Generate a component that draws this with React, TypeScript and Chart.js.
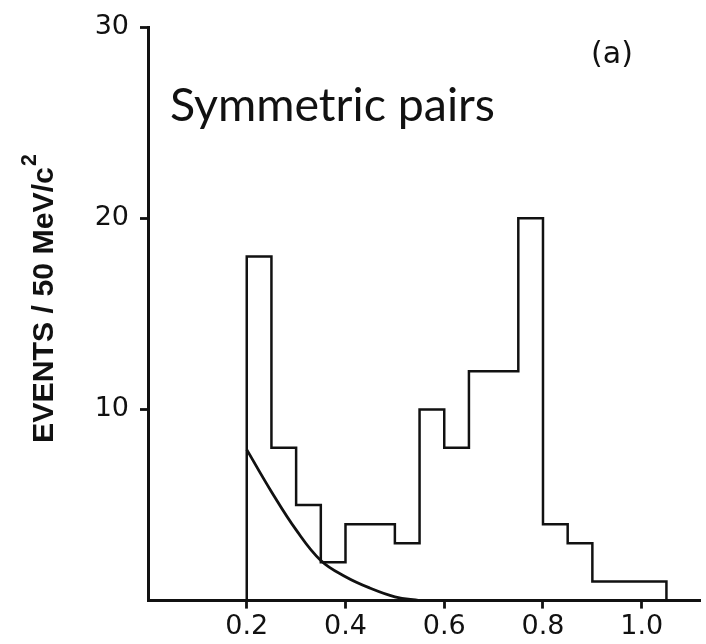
import React, { useEffect, useRef } from "react";
import { Chart, registerables } from "chart.js";

Chart.register(...registerables);

// Histogram bin edges (GeV/c^2) and counts per 50 MeV/c^2 bin
const binEdges = [0.2, 0.25, 0.3, 0.35, 0.4, 0.45, 0.5, 0.55, 0.6, 0.65, 0.7, 0.75, 0.8, 0.85, 0.9, 0.95, 1.0, 1.05];
const binCounts = [18, 8, 5, 2, 4, 4, 3, 10, 8, 12, 12, 20, 4, 3, 1, 1, 1];

// Background curve
const curveX = [0.2, 0.25, 0.3, 0.35, 0.4, 0.45, 0.5, 0.55];
const curveY = [7.9, 5.7, 3.7, 2.1, 1.25, 0.65, 0.2, 0];

// Tick values
const xTickValues = [0.2, 0.4, 0.6, 0.8, 1.0];
const yTickValues = [10, 20, 30];

// Texts
const yTitleMain = "EVENTS / 50 MeV/c";
const yTitleSup = "2";
const annotationText = "Symmetric pairs";
const panelLabel = "(a)";

const W = 706;
const H = 644;

export default function App() {
  const canvasRef = useRef<HTMLCanvasElement | null>(null);

  useEffect(() => {
    const canvas = canvasRef.current;
    if (!canvas) return;

    const histData: { x: number; y: number }[] = [{ x: binEdges[0], y: 0 }];
    binCounts.forEach((c, i) => histData.push({ x: binEdges[i], y: c }));
    histData.push({ x: binEdges[binEdges.length - 1], y: 0 });

    const curveData = curveX.map((x, i) => ({ x, y: curveY[i] }));

    const textPlugin = {
      id: "textPlugin",
      afterDraw(chart: any) {
        const ctx = chart.ctx as CanvasRenderingContext2D;
        ctx.save();
        ctx.fillStyle = "#111";

        // Y axis title (rotated), with superscript
        ctx.save();
        const base = 28;
        ctx.font = `bold ${base}px "Liberation Sans", Arial, sans-serif`;
        const wMeas = ctx.measureText(yTitleMain).width;
        const size = (base * 276) / wMeas;
        ctx.font = `bold ${size}px "Liberation Sans", Arial, sans-serif`;
        const wMain = ctx.measureText(yTitleMain).width;
        ctx.translate(45, 305);
        ctx.rotate(-Math.PI / 2);
        ctx.textBaseline = "middle";
        ctx.textAlign = "left";
        ctx.fillText(yTitleMain, -wMain / 2, 0);
        ctx.font = `bold ${size * 0.7}px "Liberation Sans", Arial, sans-serif`;
        ctx.fillText(yTitleSup, wMain / 2 + 1, -size * 0.5);
        ctx.restore();

        // Annotation
        ctx.save();
        ctx.font = `44px Lato, "Open Sans", sans-serif`;
        const aw = ctx.measureText(annotationText).width;
        const asz = (44 * 325) / aw;
        ctx.font = `${asz}px Lato, "Open Sans", sans-serif`;
        ctx.textBaseline = "alphabetic";
        ctx.textAlign = "left";
        ctx.fillText(annotationText, 170, 121);
        ctx.restore();

        // Panel label
        ctx.save();
        ctx.font = `30px "DejaVu Sans", sans-serif`;
        ctx.textAlign = "center";
        ctx.textBaseline = "middle";
        ctx.fillText(panelLabel, 612, 55);
        ctx.restore();

        ctx.restore();
      },
    };

    const tickFont = { family: '"DejaVu Sans", sans-serif', size: 27 };

    const chart = new Chart(canvas, {
      type: "line",
      data: {
        datasets: [
          {
            data: histData,
            borderColor: "#111",
            borderWidth: 2.5,
            pointRadius: 0,
            fill: false,
            stepped: true,
            tension: 0,
          },
          {
            data: curveData,
            borderColor: "#111",
            borderWidth: 2.8,
            pointRadius: 0,
            fill: false,
            tension: 0.4,
          },
        ],
      },
      options: {
        responsive: false,
        animation: false,
        events: [],
        layout: { padding: { top: 22, right: 6, left: 0, bottom: 0 } },
        plugins: {
          legend: { display: false },
          tooltip: { enabled: false },
          title: { display: false },
        },
        scales: {
          x: {
            type: "linear",
            min: 0,
            max: 1.118,
            afterBuildTicks: (s: any) => {
              s.ticks = xTickValues.map((v) => ({ value: v }));
            },
            afterFit: (s: any) => {
              s.height = 43.4;
            },
            ticks: {
              color: "#111",
              font: tickFont,
              padding: 2,
              maxRotation: 0,
              autoSkip: false,
              callback: (v: any) => Number(v).toFixed(1),
            },
            grid: {
              drawOnChartArea: false,
              drawTicks: true,
              tickLength: 8,
              tickWidth: 2.8,
              tickColor: "#111",
            },
            border: { display: true, color: "#111", width: 3 },
          },
          y: {
            type: "linear",
            min: 0,
            max: 30,
            afterBuildTicks: (s: any) => {
              s.ticks = yTickValues.map((v) => ({ value: v }));
            },
            afterFit: (s: any) => {
              s.width = 148;
            },
            ticks: {
              color: "#111",
              font: tickFont,
              padding: 11,
              autoSkip: false,
              callback: (v: any) => String(v),
            },
            grid: {
              drawOnChartArea: false,
              drawTicks: true,
              tickLength: 8,
              tickWidth: 2.8,
              tickColor: "#111",
            },
            border: { display: true, color: "#111", width: 3 },
          },
        },
      },
      plugins: [textPlugin],
    });

    return () => chart.destroy();
  }, []);

  return (
    <div style={{ position: "absolute", left: 0, top: 0, width: W, height: H, background: "#fff" }}>
      <canvas ref={canvasRef} width={W} height={H} style={{ display: "block", width: W, height: H }} />
    </div>
  );
}
